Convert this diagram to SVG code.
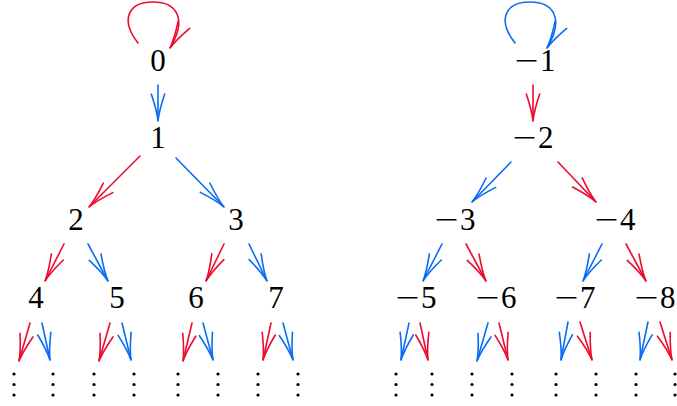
<svg xmlns="http://www.w3.org/2000/svg" width="677" height="406" viewBox="0 0 677 406">
<style>
.lbl{font-family:"Liberation Serif","DejaVu Serif","Times New Roman",serif;font-size:31px;fill:#000}
.r{stroke:#ee0a2e;stroke-width:1.6;fill:none;stroke-linecap:round}
.b{stroke:#0a6cf5;stroke-width:1.6;fill:none;stroke-linecap:round}
.r.a{marker-end:url(#ar)}
.b.a{marker-end:url(#ab)}
.d{fill:#000}
</style>
<defs>
<marker id="ar" markerUnits="userSpaceOnUse" orient="auto" refX="0" refY="0" markerWidth="40" markerHeight="20" viewBox="-30 -10 32 20" overflow="visible">
<path d="M-27,-6.7 Q-10,-1 0,0 Q-10,1 -27,6.7" fill="none" stroke="#ee0a2e" stroke-width="1.6" stroke-linecap="round"/>
</marker>
<marker id="ab" markerUnits="userSpaceOnUse" orient="auto" refX="0" refY="0" markerWidth="40" markerHeight="20" viewBox="-30 -10 32 20" overflow="visible">
<path d="M-27,-6.7 Q-10,-1 0,0 Q-10,1 -27,6.7" fill="none" stroke="#0a6cf5" stroke-width="1.6" stroke-linecap="round"/>
</marker>
<g id="vd"><circle class="d" cx="0" cy="374" r="1.6"/><circle class="d" cx="0" cy="384.5" r="1.6"/><circle class="d" cx="0" cy="395" r="1.6"/></g>
</defs>

<g id="connectors">
<path class="r a" d="M138,43 C120,20 128,2 153,2 C176,2 188,18 170,48"/>
<path class="b a" d="M515,43 C497,20 505,2 530,2 C553,2 565,18 547,48"/>
<line class="b a" x1="158" y1="85" x2="158" y2="121"/>
<line class="r a" x1="140" y1="156" x2="89" y2="207"/>
<line class="b a" x1="176" y1="158" x2="224" y2="207"/>
<line class="r a" x1="64" y1="244" x2="45" y2="281"/>
<line class="b a" x1="88" y1="244" x2="108" y2="281"/>
<line class="r a" x1="224" y1="244" x2="206" y2="281"/>
<line class="b a" x1="249" y1="244" x2="267" y2="281"/>
<line class="r a" x1="30" y1="323" x2="19" y2="361"/>
<line class="b a" x1="42" y1="323" x2="50" y2="360"/>
<line class="r a" x1="110" y1="323" x2="99" y2="361"/>
<line class="b a" x1="122" y1="323" x2="131" y2="360"/>
<line class="r a" x1="192" y1="323" x2="183" y2="361"/>
<line class="b a" x1="203" y1="323" x2="213" y2="360"/>
<line class="r a" x1="271" y1="323" x2="263" y2="360"/>
<line class="b a" x1="283" y1="323" x2="293" y2="360"/>
<line class="r a" x1="533" y1="85" x2="533" y2="121"/>
<line class="b a" x1="511" y1="162" x2="472" y2="202"/>
<line class="r a" x1="558" y1="162" x2="596" y2="202"/>
<line class="b a" x1="442" y1="244" x2="423" y2="281"/>
<line class="r a" x1="466" y1="244" x2="486" y2="281"/>
<line class="b a" x1="602" y1="244" x2="583" y2="281"/>
<line class="r a" x1="626" y1="244" x2="646" y2="281"/>
<line class="b a" x1="409" y1="323" x2="401" y2="360"/>
<line class="r a" x1="420" y1="323" x2="428" y2="360"/>
<line class="b a" x1="488" y1="323" x2="477" y2="361"/>
<line class="r a" x1="499" y1="323" x2="508" y2="360"/>
<line class="b a" x1="568" y1="322" x2="561" y2="360"/>
<line class="r a" x1="580" y1="322" x2="592" y2="360"/>
<line class="b a" x1="648" y1="322" x2="640" y2="360"/>
<line class="r a" x1="660" y1="322" x2="672" y2="360"/>
</g>

<g id="n0"><text class="lbl" x="158" y="71" text-anchor="middle">0</text></g>
<g id="n1"><text class="lbl" x="158" y="148" text-anchor="middle">1</text></g>
<g id="n2"><text class="lbl" x="76" y="230" text-anchor="middle">2</text></g>
<g id="n3"><text class="lbl" x="236" y="230" text-anchor="middle">3</text></g>
<g id="n4"><text class="lbl" x="36" y="308" text-anchor="middle">4</text></g>
<g id="n5"><text class="lbl" x="117" y="308" text-anchor="middle">5</text></g>
<g id="n6"><text class="lbl" x="196" y="308" text-anchor="middle">6</text></g>
<g id="n7"><text class="lbl" x="276" y="308" text-anchor="middle">7</text></g>
<g id="nm1"><text class="lbl" x="514.5" y="71"><tspan textLength="24" lengthAdjust="spacingAndGlyphs">−</tspan><tspan dx="1.5">1</tspan></text></g>
<g id="nm2"><text class="lbl" x="512.5" y="148"><tspan textLength="24" lengthAdjust="spacingAndGlyphs">−</tspan><tspan dx="1.5">2</tspan></text></g>
<g id="nm3"><text class="lbl" x="434.5" y="230"><tspan textLength="24" lengthAdjust="spacingAndGlyphs">−</tspan><tspan dx="1.5">3</tspan></text></g>
<g id="nm4"><text class="lbl" x="594.5" y="230"><tspan textLength="24" lengthAdjust="spacingAndGlyphs">−</tspan><tspan dx="1.5">4</tspan></text></g>
<g id="nm5"><text class="lbl" x="395.5" y="308"><tspan textLength="24" lengthAdjust="spacingAndGlyphs">−</tspan><tspan dx="1.5">5</tspan></text></g>
<g id="nm6"><text class="lbl" x="475.5" y="308"><tspan textLength="24" lengthAdjust="spacingAndGlyphs">−</tspan><tspan dx="1.5">6</tspan></text></g>
<g id="nm7"><text class="lbl" x="554.5" y="308"><tspan textLength="24" lengthAdjust="spacingAndGlyphs">−</tspan><tspan dx="1.5">7</tspan></text></g>
<g id="nm8"><text class="lbl" x="634.5" y="308"><tspan textLength="24" lengthAdjust="spacingAndGlyphs">−</tspan><tspan dx="1.5">8</tspan></text></g>

<g id="vdots">
<use href="#vd" x="14"/><use href="#vd" x="53"/><use href="#vd" x="94"/><use href="#vd" x="134"/>
<use href="#vd" x="178"/><use href="#vd" x="218"/><use href="#vd" x="258"/><use href="#vd" x="298"/>
<use href="#vd" x="396"/><use href="#vd" x="432"/><use href="#vd" x="472"/><use href="#vd" x="512"/>
<use href="#vd" x="556"/><use href="#vd" x="596"/><use href="#vd" x="636"/><use href="#vd" x="675"/>
</g>
</svg>
